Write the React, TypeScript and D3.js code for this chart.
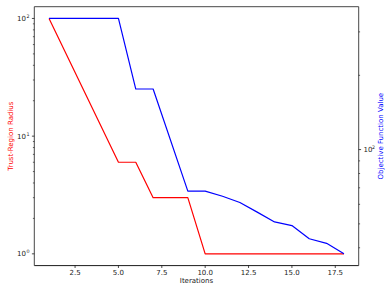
import * as d3 from 'd3';

// ─── Datos ───────────────────────────────────────────────────────────────────
const trustIters = [1, 5, 6, 7, 9, 10, 18];
const trustRadius = [100, 6, 6, 3, 3, 1, 1];

const objIters = [1, 5, 6, 7, 9, 10, 11, 12, 13, 14, 15, 16, 17, 18];
const objValues = [340, 340, 176, 176, 67.9, 67.9, 64.7, 61.0, 55.8, 50.9, 49.2, 43.5, 41.7, 37.8];

const xTicks = [2.5, 5.0, 7.5, 10.0, 12.5, 15.0, 17.5];
const leftMajor = [1, 10, 100];
const leftExp = ['0', '1', '2'];
const rightMajor = [100];
const rightExp = ['2'];

const W = 392;
const H = 294;
const m = { top: 6.7, right: 33.3, bottom: 28.4, left: 34.3 };
const iW = W - m.left - m.right;
const iH = H - m.top - m.bottom;
const FONT = 'DejaVu Sans, sans-serif';
const FS = 7;

// dominio con margen del 5% (como matplotlib)
function padExtent(v: number[]): [number, number] {
  const [a, b] = d3.extent(v) as [number, number];
  const p = (b - a) * 0.05;
  return [a - p, b + p];
}
function padLogExtent(v: number[]): [number, number] {
  const [a, b] = padExtent(v.map(Math.log10));
  return [10 ** a, 10 ** b];
}

function minorTicks(domain: [number, number], minVal: number) {
  const out: number[] = [];
  for (let e = -2; e <= 4; e++) {
    for (let s = 2; s <= 9; s++) {
      const v = s * 10 ** e;
      if (v >= domain[0] && v <= domain[1] && v >= minVal) out.push(v);
    }
  }
  return out;
}

export default function App() {
  const allIters = [...trustIters, ...objIters];
  const x = d3.scaleLinear().domain(padExtent(allIters)).range([0, iW]);
  const yL = d3.scaleLog().domain(padLogExtent(trustRadius)).range([iH, 0]);
  const yRdom = padLogExtent(objValues);
  const yR = d3.scaleLog().domain(yRdom).range([iH, 0]);

  const lineL = d3.line<number>()
    .x((_, i) => x(trustIters[i]))
    .y(d => yL(d));
  const lineR = d3.line<number>()
    .x((_, i) => x(objIters[i]))
    .y(d => yR(d));

  const leftMinor = minorTicks(yL.domain() as [number, number], 1);
  const rightMinor = minorTicks(yRdom, 0);

  const majorLen = 2.4;
  const minorLen = 1.4;
  const pad = 2.4;

  return (
    <div style={{ position: 'absolute', left: 0, top: 0 }}>
      <svg width={W} height={H} style={{ display: 'block', background: '#fff' }} fontFamily={FONT}>
        <g transform={`translate(${m.left},${m.top})`}>
          {/* líneas */}
          <path d={lineL(trustRadius) ?? ''} fill="none" stroke="#ff0000" strokeWidth={1.2} strokeLinejoin="round" />
          <path d={lineR(objValues) ?? ''} fill="none" stroke="#0000ff" strokeWidth={1.2} strokeLinejoin="round" />

          {/* marco */}
          <line x1={0} x2={iW} y1={0} y2={0} stroke="#333" strokeWidth={0.9} />
          <line x1={0} x2={iW} y1={iH} y2={iH} stroke="#000" strokeWidth={0.9} />
          <line x1={0} x2={0} y1={0} y2={iH} stroke="#333" strokeWidth={0.9} />
          <line x1={iW} x2={iW} y1={0} y2={iH} stroke="#333" strokeWidth={0.9} />

          {/* eje x */}
          {xTicks.map(t => (
            <g key={t} transform={`translate(${x(t)},${iH})`}>
              <line y2={majorLen} stroke="#000" strokeWidth={0.7} />
              <text y={majorLen + pad + 5.1} textAnchor="middle" fontSize={FS} fill="#222">{t.toFixed(1)}</text>
            </g>
          ))}
          <text x={iW / 2} y={iH + 17.2} textAnchor="middle" fontSize={FS} fill="#222">Iterations</text>

          {/* eje izquierdo */}
          {leftMajor.map((t, i) => (
            <g key={t} transform={`translate(0,${yL(t)})`}>
              <line x2={-majorLen} stroke="#000" strokeWidth={0.7} />
              <text x={-majorLen - pad - 3.6} y={2.5} textAnchor="end" fontSize={FS} fill="#222">10</text>
              <text x={-majorLen - pad} y={-0.4} textAnchor="end" fontSize={4.8} fill="#222">{leftExp[i]}</text>
            </g>
          ))}
          {leftMinor.map(t => (
            <line key={t} x2={-minorLen} y1={yL(t)} y2={yL(t)} stroke="#000" strokeWidth={0.6} />
          ))}
          <text transform={`translate(${-21.3},${iH / 2}) rotate(-90)`} textAnchor="middle" fontSize={FS} fill="#ff0000">Trust-Region Radius</text>

          {/* eje derecho */}
          {rightMajor.map((t, i) => (
            <g key={t} transform={`translate(${iW},${yR(t)})`}>
              <line x2={majorLen} stroke="#000" strokeWidth={0.7} />
              <text x={majorLen + pad} y={2.5} textAnchor="start" fontSize={FS} fill="#222">10</text>
              <text x={majorLen + pad + 8.6} y={-0.4} textAnchor="start" fontSize={4.8} fill="#222">{rightExp[i]}</text>
            </g>
          ))}
          {rightMinor.map(t => (
            <line key={t} x1={iW} x2={iW + minorLen} y1={yR(t)} y2={yR(t)} stroke="#000" strokeWidth={0.6} />
          ))}
          <text transform={`translate(${iW + 24.5},${iH / 2}) rotate(-90)`} textAnchor="middle" fontSize={FS} fill="#0000ff">Objective Function Value</text>
        </g>
      </svg>
    </div>
  );
}
